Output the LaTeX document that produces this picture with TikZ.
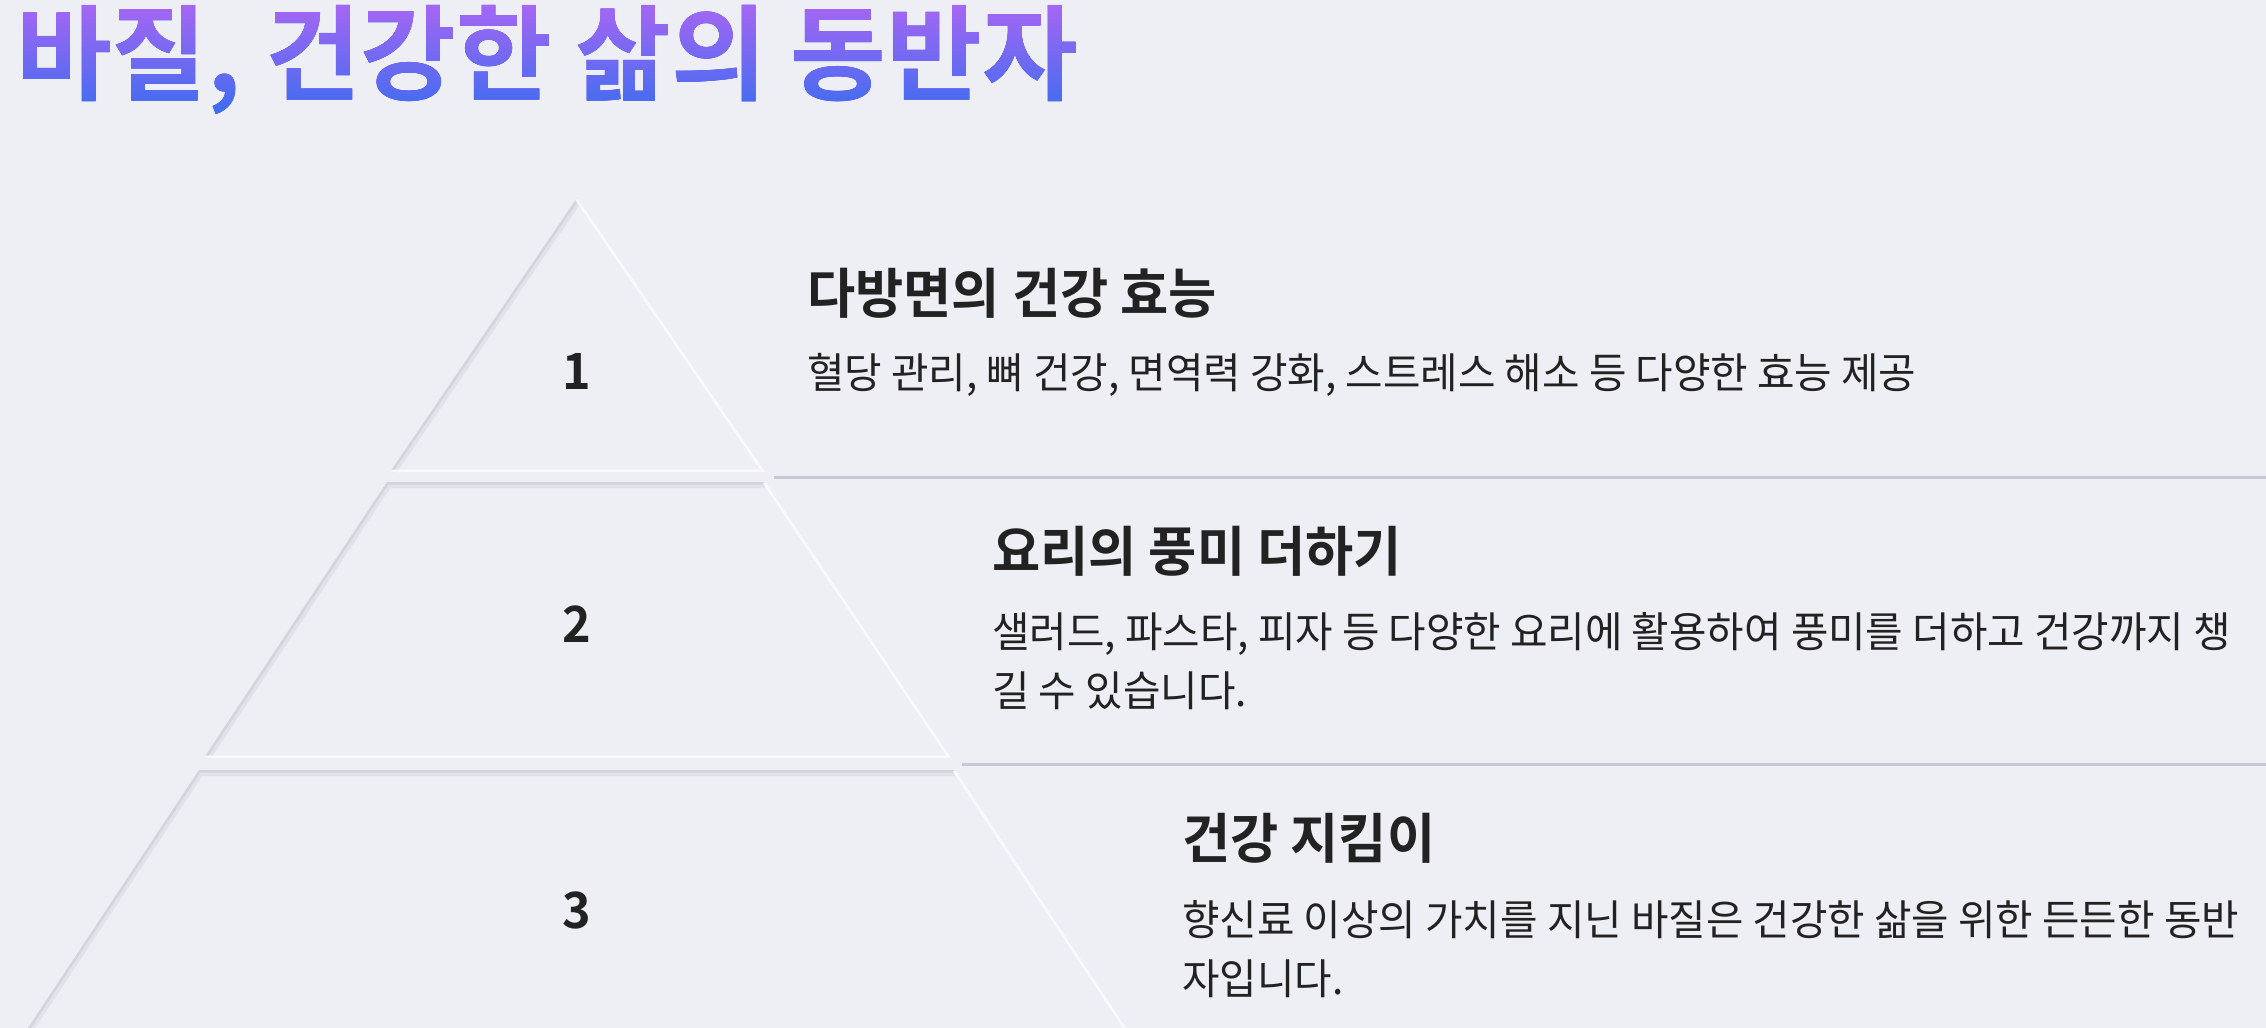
\documentclass[tikz,border=0pt]{standalone}
\usepackage{fontspec}
\newfontfamily\krreg{Noto Sans CJK KR}[FakeStretch=0.97]
\newfontfamily\krbold{Noto Sans CJK KR Bold}[FakeStretch=0.97]
\newfontfamily\krtitle{Noto Sans CJK KR Bold}[FakeStretch=1.0]
\definecolor{bg}{HTML}{EEEFF4}
\definecolor{ink}{HTML}{222222}
\definecolor{sepc}{HTML}{C8C8D4}
\definecolor{shadowc}{HTML}{C9CAD3}
\definecolor{tpurple}{HTML}{A566F3}
\definecolor{tblue}{HTML}{3B6DF0}
\begin{document}
\begin{tikzpicture}[x=0.5pt,y=-0.5pt,
  tier/.style={fill=bg, draw=none},
  shadowA/.style={draw=shadowc, line width=6pt, opacity=0.3},
  shadowB/.style={draw=shadowc, line width=2.5pt, opacity=0.6},
  hilite/.style={draw=white, line width=2.5pt, opacity=0.75, line join=round},
  sepline/.style={draw=sepc, line width=1.5pt},
  numtxt/.style={font=\krbold\fontsize{25pt}{25pt}\selectfont, text=ink, inner sep=0pt, anchor=base},
  headtxt/.style={font=\krbold\fontsize{27pt}{27pt}\selectfont, text=ink, inner sep=0pt, anchor=base west},
  bodytxt/.style={font=\krreg\fontsize{21pt}{21pt}\selectfont, text=ink, inner sep=0pt, anchor=base west},
  titletxt/.style={font=\krtitle\fontsize{52pt}{52pt}\selectfont, text=black, inner sep=0pt, anchor=center}
]
\useasboundingbox[fill=bg] (0,0) rectangle (2266,1028);

% title: black text, gradient laid over it with blend mode lighten
\node[titletxt] (title) at (547,60) {바질, 건강한 삶의 동반자};
\begin{scope}[blend mode=lighten]
\shade[top color=tpurple, bottom color=tblue] (title.south west) rectangle (title.north east);
\end{scope}

% tier 1
\begin{scope}
\clip (577,198) -- (765,472) -- (390,472) -- cycle;
\fill[tier] (577,198) -- (765,472) -- (390,472) -- cycle;
\draw[shadowA] (390,472) -- (577,198);
\draw[shadowB] (390,472) -- (577,198);
\draw[hilite] (577,198) -- (765,472) -- (390,472);
\end{scope}
% tier 2
\begin{scope}
\clip (387,482) -- (765,482) -- (951,758) -- (204,758) -- cycle;
\fill[tier] (387,482) -- (765,482) -- (951,758) -- (204,758) -- cycle;
\draw[shadowA] (204,758) -- (387,482) -- (765,482);
\draw[shadowB] (204,758) -- (387,482) -- (765,482);
\draw[hilite] (765,482) -- (951,758) -- (204,758);
\end{scope}
% tier 3
\begin{scope}
\clip (199,770) -- (955,770) -- (1134,1040) -- (20,1040) -- cycle;
\fill[tier] (199,770) -- (955,770) -- (1134,1040) -- (20,1040) -- cycle;
\draw[shadowA] (20,1040) -- (199,770) -- (955,770);
\draw[shadowB] (20,1040) -- (199,770) -- (955,770);
\draw[hilite] (955,770) -- (1134,1040);
\end{scope}

% separators
\coordinate (s1a) at (774,477);
\coordinate (s1b) at (2266,477);
\coordinate (s2a) at (962,764);
\coordinate (s2b) at (2266,764);
\draw[sepline] (s1a) -- (s1b);
\draw[sepline] (s2a) -- (s2b);

% numbers
\node[numtxt] (n1) at (577,389) {1};
\node[numtxt] (n2) at (577,642) {2};
\node[numtxt] (n3) at (577,928) {3};

% texts
\node[headtxt] (h1) at (807,313) {다방면의 건강 효능};
\node[bodytxt] (b1) at (807,388) {혈당 관리, 뼈 건강, 면역력 강화, 스트레스 해소 등 다양한 효능 제공};

\node[headtxt] (h2) at (992,571) {요리의 풍미 더하기};
\node[bodytxt] (b2a) at (992,647) {샐러드, 파스타, 피자 등 다양한 요리에 활용하여 풍미를 더하고 건강까지 챙};
\node[bodytxt] (b2b) at (992,706) {길 수 있습니다.};

\node[headtxt] (h3) at (1182,858) {건강 지킴이};
\node[bodytxt] (b3a) at (1182,935) {향신료 이상의 가치를 지닌 바질은 건강한 삶을 위한 든든한 동반};
\node[bodytxt] (b3b) at (1182,994) {자입니다.};
\end{tikzpicture}
\end{document}
